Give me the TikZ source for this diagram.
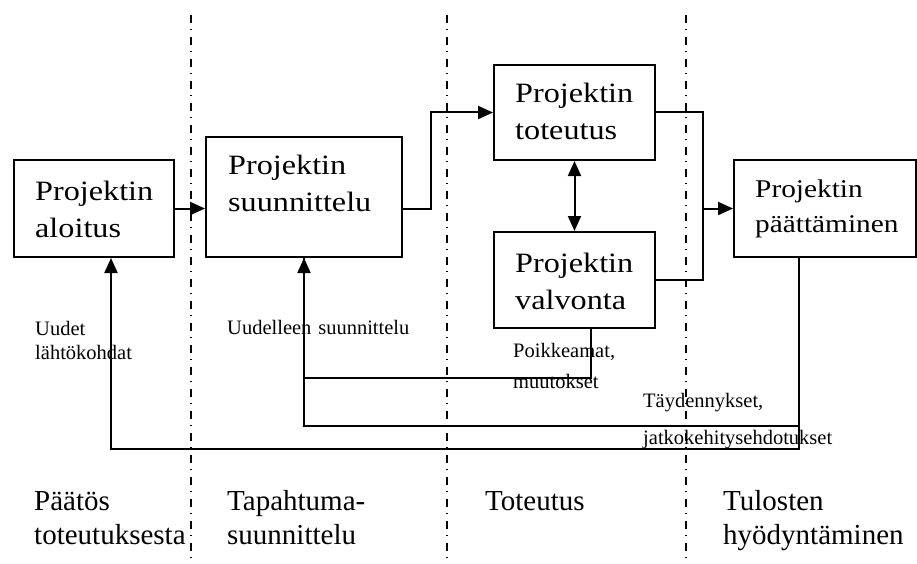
\documentclass[tikz,border=0pt]{standalone}
\usepackage{fontspec}
\setmainfont{Liberation Serif}
\newfontfamily\boxfont{Liberation Serif}[FakeStretch=1.15]
\usetikzlibrary{arrows.meta}
\tikzset{
  box/.style={draw, line width=2pt, inner sep=0pt},
  boxtext/.style={font=\boxfont\fontsize{28}{37}\selectfont, align=left, text width=170pt, inner sep=0pt, anchor=base west},
  endtext/.style={font=\boxfont\fontsize{25.5}{35}\selectfont, align=left, text width=170pt, inner sep=0pt, anchor=base west},
  smalltext/.style={font=\fontsize{20.5}{24}\selectfont, align=left, text width=250pt, inner sep=0pt, anchor=base west},
  phasetext/.style={font=\fontsize{29}{34}\selectfont, align=left, text width=200pt, inner sep=0pt, anchor=base west},
  sepline/.style={line width=1.4pt, dash pattern=on 8pt off 6pt on 1pt off 7pt},
  conn/.style={line width=2pt},
  arr/.style={conn, -{Triangle[length=15pt,width=13pt]}},
  darr/.style={conn, {Triangle[length=15pt,width=13pt]}-{Triangle[length=15pt,width=13pt]}},
}
\begin{document}
\begin{tikzpicture}[x=1pt,y=-1pt]
\useasboundingbox (0,0) rectangle (917,564);
% phase separators
\foreach \n/\x in {sa/191,sb/447,sc/686}{
  \coordinate (\n t) at (\x,15);
  \coordinate (\n b) at (\x,562);
  \draw[sepline] (\n t) -- (\n b);
}
% boxes
\node[box, minimum width=160pt, minimum height=97pt] (aloitus) at (94,208.5) {};
\node[box, minimum width=196pt, minimum height=120pt] (suunn) at (304,197) {};
\node[box, minimum width=161pt, minimum height=95pt] (toteut) at (574.5,112.5) {};
\node[box, minimum width=161pt, minimum height=96pt] (valv) at (574.5,280) {};
\node[box, minimum width=182pt, minimum height=97pt] (paat) at (825,208.5) {};
% box texts
\node[boxtext] (aloitusT) at (35,200) {Projektin\\aloitus};
\node[boxtext] (suunnT) at (228,175) {Projektin\\suunnittelu};
\node[boxtext] (toteutT) at (515,103) {Projektin\\toteutus};
\node[boxtext] (valvT) at (515,272) {Projektin\\valvonta};
\node[endtext] (paatT) at (755,197) {Projektin\\päättäminen};
% connectors
\coordinate (j) at (703,208.5);
\draw[arr] (aloitus.east) -- (aloitus.east -| suunn.west);
\draw[arr] (suunn.east |- aloitus.east) -- ++(28,0) |- (toteut.west);
\draw[darr] (toteut) -- (valv);
\draw[conn] (toteut.east) -| (j) |- (valv.east);
\draw[arr] (j) -- (paat);
\draw[arr] ([xshift=16.5pt]valv.south) -- ++(0,49) -| (suunn.south);
\draw[arr] ([xshift=-26pt]paat.south) -- ++(0,191) -| ([xshift=17pt]aloitus.south);
\draw[conn] ([xshift=-26pt]paat.south) ++(0,168) -| (suunn.south);
% connector labels
\node[smalltext] (lUudet) at (35,335) {Uudet\\lähtökohdat};
\node[smalltext] (lUudelleen) at (227,334) {Uudelleen suunnittelu};
\node[smalltext, font=\fontsize{20.5}{31}\selectfont] (lPoik) at (513,357) {Poikkeamat,\\muutokset};
\node[smalltext, font=\fontsize{20.5}{37}\selectfont] (lTayd) at (643,407) {Täydennykset,\\jatkokehitysehdotukset};
% phase labels
\node[phasetext] (pA) at (34,510) {Päätös\\toteutuksesta};
\node[phasetext] (pB) at (227,510) {Tapahtuma-\\suunnittelu};
\node[phasetext] (pC) at (485,510) {Toteutus};
\node[phasetext] (pD) at (723,510) {Tulosten\\hyödyntäminen};
\end{tikzpicture}
\end{document}
